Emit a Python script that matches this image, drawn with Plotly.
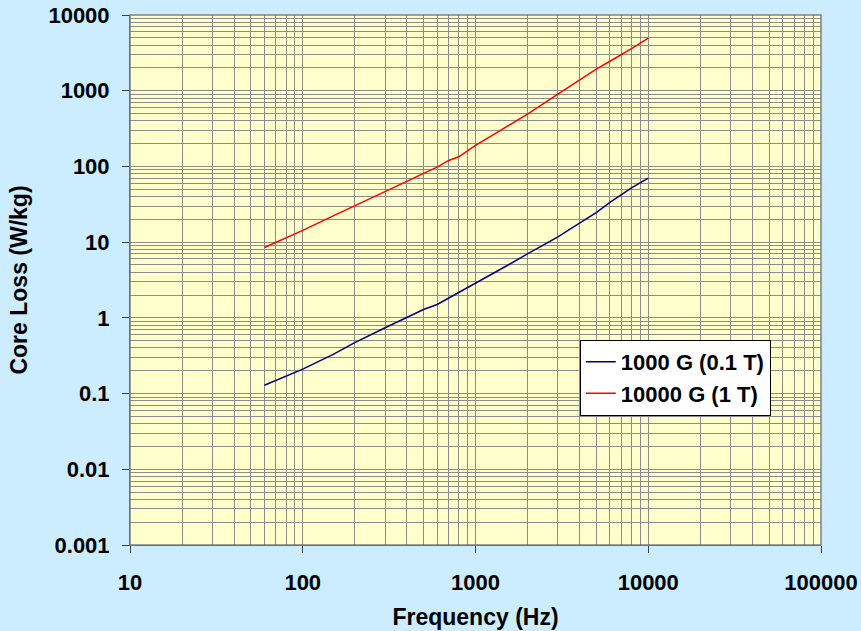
import plotly.graph_objects as go

# Frequency (Hz)
freq = [60, 100, 150, 200, 300, 400, 500, 600, 700, 800, 1000, 1500, 2000,
        3000, 4000, 5000, 6000, 7000, 8000, 10000]
# Core loss at 1000 G (0.1 T), W/kg
loss_01T = [0.129, 0.21, 0.33, 0.47, 0.74, 1.02, 1.29, 1.5, 1.82, 2.16, 2.9,
            4.8, 7.0, 11.7, 17.8, 24.5, 33.5, 43, 52, 70]
# Core loss at 10000 G (1 T), W/kg
loss_1T = [8.5, 14.3, 22.2, 30, 46.5, 63.4, 81, 98, 120, 134, 190, 328, 490,
           900, 1400, 1930, 2450, 3000, 3600, 4940]

series_names = ["1000 G (0.1 T)", "10000 G (1 T)"]
x_tickvals = [10, 100, 1000, 10000, 100000]
x_ticktext = ["10", "100", "1000", "10000", "100000"]
y_tickvals = [0.001, 0.01, 0.1, 1, 10, 100, 1000, 10000]
y_ticktext = ["0.001", "0.01", "0.1", "1", "10", "100", "1000", "10000"]

FONT = "Liberation Sans, Arial, sans-serif"
GRID = "#8c8c8c"
AXIS = "#404040"

fig = go.Figure()
fig.add_trace(go.Scatter(x=freq, y=loss_01T, mode="lines", name=series_names[0],
                         line=dict(color="#000080", width=1.5)))
fig.add_trace(go.Scatter(x=freq, y=loss_1T, mode="lines", name=series_names[1],
                         line=dict(color="#FF0000", width=1.5)))

tickfont = dict(family=FONT, size=22, color="black", weight="bold")
titlefont = dict(family=FONT, size=23, color="black", weight="bold")

fig.update_xaxes(
    type="log", range=[1, 5],
    tickvals=x_tickvals, ticktext=x_ticktext,
    ticks="outside", ticklen=7, tickcolor=AXIS, tickwidth=1,
    ticklabelstandoff=11,
    showline=True, linecolor=AXIS, linewidth=1,
    showgrid=True, gridcolor=GRID, gridwidth=1,
    minor=dict(dtick="D1", showgrid=True, gridcolor=GRID, gridwidth=1, ticks=""),
    tickfont=tickfont,
    title=dict(text="Frequency (Hz)", font=titlefont, standoff=14),
    zeroline=False,
)
fig.update_yaxes(
    type="log", range=[-3, 4],
    tickvals=y_tickvals, ticktext=y_ticktext,
    ticks="outside", ticklen=7, tickcolor=AXIS, tickwidth=1,
    ticklabelstandoff=8,
    showline=True, linecolor=AXIS, linewidth=1,
    showgrid=True, gridcolor=GRID, gridwidth=1,
    minor=dict(dtick="D1", showgrid=True, gridcolor=GRID, gridwidth=1, ticks=""),
    tickfont=tickfont,
    title=dict(text="Core Loss (W/kg)", font=titlefont, standoff=14),
    zeroline=False,
)

# plot-area border (top/right grey frame)
fig.add_shape(type="rect", xref="paper", yref="paper", x0=0, y0=0, x1=1, y1=1,
              line=dict(color="#808080", width=1.5), layer="above")

fig.update_layout(
    width=861, height=631,
    margin=dict(l=130, r=40, t=15, b=86, autoexpand=False),
    paper_bgcolor="#CCECFF",
    plot_bgcolor="#FFFFCC",
    showlegend=True,
    legend=dict(
        x=0.651, y=0.387, xanchor="left", yanchor="top",
        bgcolor="white", bordercolor="black", borderwidth=1,
        font=dict(family=FONT, size=22, color="black", weight="bold"),
        itemwidth=30, tracegroupgap=0,
    ),
)

fig.write_html("out.html")
